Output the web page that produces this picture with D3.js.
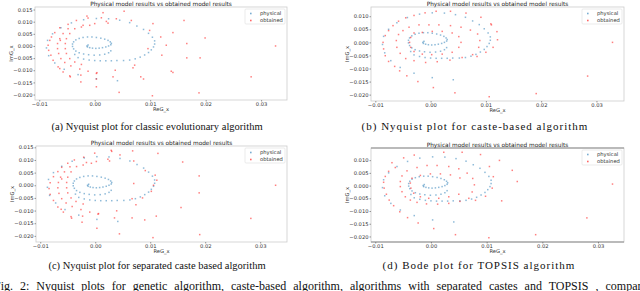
<!DOCTYPE html>
<html>
<head>
<meta charset="utf-8">
<script src="https://cdn.jsdelivr.net/npm/d3@7"></script>
<style>
body { margin: 0; background: #fff; }
svg { display: block; }
</style>
</head>
<body>
<svg></svg>
<script>
// physical model response, same in every panel (ReG_x, ImG_x)
let physical = [
    [-0.0012, 0.0004], [-0.0014, 0.0000], [-0.0013, -0.0004], [-0.0009, -0.0007], [-0.0004, -0.0009],
    [0.0002, -0.0010], [0.0008, -0.0009], [0.0014, -0.0007], [0.0020, -0.0004], [0.0025, 0.0000],
    [0.0029, 0.0005], [0.0030, 0.0011], [0.0028, 0.0017], [0.0024, 0.0023], [0.0018, 0.0028],
    [0.0011, 0.0032], [0.0003, 0.0035], [-0.0005, 0.0037], [-0.0013, 0.0037], [-0.0021, 0.0035],
    [-0.0028, 0.0031], [-0.0034, 0.0025], [-0.0038, 0.0017], [-0.0040, 0.0008], [-0.0040, -0.0002],
    [-0.0038, -0.0012], [-0.0034, -0.0021], [-0.0028, -0.0028], [-0.0020, -0.0033], [-0.0011, -0.0036],
    [-0.0001, -0.0038], [0.0009, -0.0037], [0.0018, -0.0034], [0.0025, -0.0028], [0.0029, -0.0020],
    [-0.0036, -0.0035], [-0.0030, -0.0048], [-0.0020, -0.0054], [-0.0010, -0.0058], [0.0000, -0.0060],
    [0.0010, -0.0061], [0.0020, -0.0061], [0.0030, -0.0061], [0.0040, -0.0060], [0.0052, -0.0060],
    [0.0063, -0.0058], [0.0073, -0.0053], [0.0082, -0.0046], [0.0090, -0.0037], [0.0097, -0.0027],
    [0.0102, -0.0016], [0.0106, -0.0004], [0.0108, 0.0008], [0.0108, 0.0021], [0.0104, 0.0036],
    [0.0097, 0.0052], [0.0088, 0.0068], [0.0076, 0.0082], [0.0063, 0.0096], [0.0045, 0.0106],
    [0.0025, 0.0112], [0.0003, 0.0113], [-0.0020, 0.0108], [-0.0042, 0.0095], [-0.0061, 0.0075],
    [-0.0076, 0.0050], [-0.0085, 0.0023], [-0.0087, -0.0008], [-0.0083, -0.0040], [-0.0072, -0.0070],
    [-0.0055, -0.0096], [-0.0030, -0.0118], [0.0003, -0.0135], [0.0041, -0.0143]
];

// obtained model results, panel (a)
let obtainedA = [
    [0.0053, 0.0143], [0.0015, 0.0137], [-0.0014, 0.0123], [-0.0033, 0.0105], [-0.0048, 0.0089],
    [-0.0063, 0.0075], [-0.0072, 0.0055], [-0.0078, 0.0037], [-0.0081, 0.0023], [-0.0084, 0.0003],
    [-0.0083, -0.0018], [-0.0079, -0.0038], [-0.0075, -0.0059], [-0.0066, -0.0086], [-0.0057, -0.0107],
    [-0.0045, -0.0123], [-0.0025, -0.0148], [0.0003, -0.0168], [0.0044, -0.0191], [0.0104, -0.0205],
    [-0.0012, 0.0115], [-0.0021, 0.0085], [-0.0048, 0.0071], [-0.0057, 0.0051], [-0.0063, 0.0030],
    [-0.0067, 0.0010], [-0.0067, -0.0011], [-0.0065, -0.0031], [-0.0061, -0.0052], [-0.0054, -0.0068],
    [-0.0043, -0.0082], [-0.0027, -0.0095], [-0.0012, -0.0104], [0.0003, -0.0113], [0.0033, -0.0127],
    [-0.0063, -0.0093], [-0.0044, -0.0127], [-0.0025, -0.0120], [0.0004, -0.0110], [0.0037, -0.0100],
    [-0.0045, 0.0051], [-0.0051, 0.0030], [-0.0053, 0.0010], [-0.0053, -0.0011], [-0.0051, -0.0031],
    [-0.0045, -0.0052], [-0.0036, -0.0066], [-0.0024, -0.0076], [-0.0036, 0.0071], [-0.0024, 0.0078],
    [-0.0009, 0.0085], [0.0000, 0.0092], [0.0021, 0.0101], [0.0039, 0.0112], [0.0066, 0.0105],
    [0.0024, 0.0094], [0.0012, 0.0116], [-0.0062, 0.0023], [0.0072, -0.0079], [0.0096, -0.0011],
    [0.0105, 0.0092], [0.0099, 0.0064], [0.0161, 0.0105], [0.0141, 0.0055], [0.0119, 0.0037],
    [0.0199, 0.0033], [0.0166, 0.0010], [0.0129, 0.0003], [0.0326, 0.0000], [0.0121, -0.0038],
    [0.0166, -0.0049], [0.0190, -0.0049], [0.0138, -0.0104], [0.0141, -0.0109], [0.0282, -0.0127],
    [0.0188, -0.0193], [0.0088, -0.0136], [0.0069, -0.0090], [0.0083, -0.0127], [0.0003, -0.0136]
];

// obtained model results, panel (b)
let obtainedB = [
    [-0.0030, 0.0103], [-0.0045, 0.0094], [-0.0058, 0.0081], [-0.0068, 0.0064], [-0.0076, 0.0045],
    [-0.0082, 0.0026], [-0.0086, 0.0000], [-0.0085, -0.0025], [-0.0082, -0.0051], [-0.0076, -0.0073],
    [-0.0065, -0.0092], [-0.0056, -0.0109], [-0.0043, -0.0128], [-0.0023, -0.0150], [0.0005, -0.0173],
    [0.0044, -0.0193], [0.0106, -0.0208], [0.0191, -0.0196], [0.0284, -0.0129], [0.0329, 0.0000],
    [-0.0010, 0.0113], [0.0010, 0.0119], [0.0036, 0.0119], [0.0064, 0.0112], [0.0091, 0.0096],
    [0.0109, 0.0071], [0.0120, 0.0041], [0.0121, 0.0010], [0.0113, -0.0019], [0.0100, -0.0038],
    [0.0084, -0.0054], [0.0110, 0.0067],
    [-0.0039, 0.0058], [-0.0050, 0.0045], [-0.0058, 0.0030], [-0.0062, 0.0007], [-0.0061, -0.0019],
    [-0.0055, -0.0042], [-0.0045, -0.0062], [-0.0030, -0.0070], [-0.0009, -0.0077], [0.0012, -0.0074],
    [0.0035, -0.0068], [0.0057, -0.0058], [0.0076, -0.0047], [-0.0021, 0.0067], [-0.0003, 0.0067],
    [0.0015, 0.0067], [0.0036, 0.0064], [0.0055, 0.0058], [0.0072, 0.0047], [0.0085, 0.0032],
    [0.0089, 0.0007], [0.0087, -0.0019],
    [-0.0030, 0.0036], [-0.0036, 0.0019], [-0.0038, 0.0000], [-0.0036, -0.0019], [-0.0030, -0.0035],
    [-0.0015, -0.0045], [0.0002, -0.0047], [0.0021, -0.0045], [0.0039, -0.0038], [0.0051, -0.0019],
    [0.0055, 0.0000], [0.0051, 0.0022], [0.0039, 0.0036], [0.0021, 0.0042], [0.0003, 0.0042],
    [-0.0015, 0.0038]
];

// obtained model results, panel (c)
let obtainedC = [
    [0.0068, 0.0136], [0.0029, 0.0138], [-0.0001, 0.0127], [-0.0021, 0.0111], [-0.0038, 0.0100],
    [-0.0050, 0.0087], [-0.0061, 0.0071], [-0.0068, 0.0054], [-0.0076, 0.0034], [-0.0082, 0.0010],
    [-0.0084, -0.0013], [-0.0082, -0.0036], [-0.0076, -0.0060], [-0.0068, -0.0086], [-0.0058, -0.0106],
    [-0.0044, -0.0124], [-0.0024, -0.0146], [0.0003, -0.0170], [0.0044, -0.0192], [0.0105, -0.0207],
    [-0.0016, 0.0090], [-0.0046, 0.0073], [-0.0056, 0.0053], [-0.0063, 0.0032], [-0.0067, 0.0011],
    [-0.0068, -0.0010], [-0.0066, -0.0032], [-0.0061, -0.0053], [-0.0053, -0.0070], [-0.0042, -0.0084],
    [-0.0026, -0.0096], [-0.0010, -0.0106], [0.0005, -0.0114], [0.0035, -0.0129], [-0.0062, -0.0095],
    [-0.0043, -0.0130], [-0.0023, -0.0122], [0.0006, -0.0112], [0.0039, -0.0101], [0.0067, -0.0129],
    [-0.0044, 0.0053], [-0.0050, 0.0032], [-0.0052, 0.0011], [-0.0052, -0.0010], [-0.0050, -0.0030],
    [-0.0044, -0.0050], [-0.0035, -0.0064], [-0.0022, -0.0074], [-0.0034, 0.0074], [-0.0022, 0.0080],
    [-0.0007, 0.0087], [0.0002, 0.0094], [0.0023, 0.0103], [0.0045, 0.0120], [0.0070, 0.0096],
    [0.0026, 0.0096], [0.0030, 0.0134], [-0.0061, 0.0025], [0.0074, -0.0077], [0.0067, -0.0053],
    [0.0114, 0.0126], [0.0091, 0.0058], [0.0159, 0.0092], [0.0109, 0.0040], [0.0112, 0.0020],
    [0.0189, 0.0037], [0.0106, 0.0000], [0.0070, 0.0007], [0.0328, 0.0000], [0.0102, -0.0024],
    [0.0189, -0.0030], [0.0156, -0.0088], [0.0111, -0.0122], [0.0283, -0.0131], [0.0190, -0.0195],
    [0.0086, -0.0050], [0.0090, -0.0137]
];

// obtained model results, panel (d)
let obtainedD = [
    [-0.0049, 0.0109], [-0.0064, 0.0071], [-0.0076, 0.0056], [-0.0082, 0.0036], [-0.0085, 0.0013],
    [-0.0084, -0.0010], [-0.0080, -0.0034], [-0.0075, -0.0057], [-0.0067, -0.0079], [-0.0056, -0.0103],
    [-0.0042, -0.0126], [-0.0023, -0.0147], [0.0005, -0.0169], [0.0044, -0.0193], [0.0104, -0.0205],
    [0.0188, -0.0193], [0.0280, -0.0127], [0.0326, 0.0006], [-0.0070, 0.0090], [-0.0030, 0.0120],
    [0.0023, 0.0131], [0.0056, 0.0131], [0.0089, 0.0122], [0.0123, 0.0099], [0.0146, 0.0060],
    [0.0155, 0.0016], [0.0127, -0.0060], [0.0105, 0.0075], [0.0112, 0.0035], [0.0110, -0.0010],
    [0.0098, -0.0042], [0.0080, -0.0058],
    [-0.0043, 0.0058], [-0.0052, 0.0038], [-0.0055, 0.0016], [-0.0055, -0.0004], [-0.0052, -0.0024],
    [-0.0046, -0.0044], [-0.0037, -0.0057], [-0.0025, -0.0066], [-0.0008, -0.0072], [0.0012, -0.0073],
    [0.0032, -0.0070], [0.0052, -0.0062], [0.0068, -0.0050], [-0.0025, 0.0071], [-0.0007, 0.0079],
    [0.0011, 0.0079], [0.0032, 0.0075], [0.0050, 0.0066], [0.0065, 0.0049], [0.0075, 0.0028],
    [0.0078, 0.0003], [0.0074, -0.0025],
    [-0.0034, 0.0029], [-0.0037, 0.0010], [-0.0036, -0.0010], [-0.0031, -0.0030], [-0.0019, -0.0044],
    [-0.0004, -0.0050], [0.0014, -0.0050], [0.0032, -0.0044], [0.0050, -0.0034], [-0.0019, 0.0040],
    [-0.0001, 0.0046], [0.0017, 0.0046], [0.0035, 0.0042], [0.0052, 0.0030]
];

let xTicks = [-0.01, 0.00, 0.01, 0.02, 0.03];
let yTicksWide = [-0.020, -0.015, -0.010, -0.005, 0.000, 0.005, 0.010, 0.015];
let yTicksNarrow = [-0.020, -0.015, -0.010, -0.005, 0.000, 0.005, 0.010];
let seriesNames = ['physical', 'obtained'];
let titleText = 'Physical model results vs obtained model results';
let captions = [
    '(a) Nyquist plot for classic evolutionary algorithm',
    '(b) Nyquist plot for caste-based algorithm',
    '(c) Nyquist plot for separated caste based algorithm',
    '(d) Bode plot for TOPSIS algorithm'
];
let figCaption = 'Fig. 2: Nyquist plots for genetic algorithm, caste-based algorithm, algorithms with separated castes and TOPSIS , comparison';

let width = 640;
let height = 291;
let blue = '#1f77b4';
let red = '#ff0000';

let panels = [
    { obtained: obtainedA, yTicks: yTicksWide, x: 35, y: 7, w: 252, h: 93, capX: 157, capY: 129.5, capSize: 10.5, capSpacing: 0, dark: false },
    { obtained: obtainedB, yTicks: yTicksNarrow, x: 371, y: 7, w: 253, h: 94, capX: 475, capY: 129.5, capSize: 11, capSpacing: 1, dark: false },
    { obtained: obtainedC, yTicks: yTicksWide, x: 36, y: 146, w: 251, h: 96, capX: 157, capY: 269, capSize: 10.5, capSpacing: 0, dark: false },
    { obtained: obtainedD, yTicks: yTicksNarrow, x: 371, y: 148, w: 253, h: 94, capX: 479, capY: 269, capSize: 11, capSpacing: 1, dark: true }
];

let svg = d3.select('svg').attr('width', width).attr('height', height);

let padded = (ext) => {
    let pad = (ext[1] - ext[0]) * 0.05;
    return [ext[0] - pad, ext[1] + pad];
};

let drawPanel = (p, i) => {
    let all = physical.concat(p.obtained);
    let xScale = d3.scaleLinear()
        .domain(padded(d3.extent(all, (d) => d[0])))
        .range([p.x, p.x + p.w]);
    let yScale = d3.scaleLinear()
        .domain(padded(d3.extent(all, (d) => d[1])))
        .range([p.y + p.h, p.y]);

    let g = svg.append('g');

    // frame
    g.append('rect')
        .attr('x', p.x).attr('y', p.y)
        .attr('width', p.w).attr('height', p.h)
        .attr('fill', 'none')
        .attr('stroke', '#cccccc')
        .attr('stroke-width', 0.8);
    if (p.dark) {
        [p.y, p.y + p.h].forEach((yy) => {
            g.append('line')
                .attr('x1', p.x).attr('x2', p.x + p.w)
                .attr('y1', yy).attr('y2', yy)
                .attr('stroke', '#8a8a8a')
                .attr('stroke-width', 1.2);
        });
    }

    let xAxis = d3.axisBottom(xScale).tickValues(xTicks).tickSize(1.5).tickPadding(0.8)
        .tickFormat(d3.format('.2f'));
    let yAxis = d3.axisLeft(yScale).tickValues(p.yTicks).tickSize(1.5).tickPadding(1)
        .tickFormat(d3.format('.3f'));

    let gx = g.append('g')
        .attr('transform', `translate(0, ${p.y + p.h})`)
        .call(xAxis);
    let gy = g.append('g')
        .attr('transform', `translate(${p.x}, 0)`)
        .call(yAxis);
    [gx, gy].forEach((ax) => {
        ax.select('.domain').remove();
        ax.selectAll('line').attr('stroke', '#555').attr('stroke-width', 0.6);
        ax.selectAll('text')
            .attr('font-family', 'DejaVu Sans')
            .attr('font-size', 5.2)
            .attr('fill', '#333');
    });

    // points
    g.append('g').selectAll('rect')
        .data(physical)
        .enter()
        .append('rect')
        .attr('x', (d) => xScale(d[0]) - 0.75)
        .attr('y', (d) => yScale(d[1]) - 0.75)
        .attr('width', 1.5).attr('height', 1.5)
        .attr('fill', blue)
        .attr('opacity', 0.5);
    g.append('g').selectAll('rect')
        .data(p.obtained)
        .enter()
        .append('rect')
        .attr('x', (d) => xScale(d[0]) - 0.75)
        .attr('y', (d) => yScale(d[1]) - 0.75)
        .attr('width', 1.5).attr('height', 1.5)
        .attr('fill', red)
        .attr('opacity', 0.5);

    // title and axis labels
    g.append('text')
        .attr('x', p.x + p.w / 2).attr('y', p.y - 1.3)
        .attr('text-anchor', 'middle')
        .attr('font-family', 'DejaVu Sans').attr('font-size', 5.8)
        .attr('fill', '#222')
        .text(titleText);
    g.append('text')
        .attr('x', p.x + p.w / 2).attr('y', p.y + p.h + 11)
        .attr('text-anchor', 'middle')
        .attr('font-family', 'DejaVu Sans').attr('font-size', 5.2)
        .attr('fill', '#333')
        .text('ReG_x');
    g.append('text')
        .attr('transform', `translate(${p.x - 22}, ${p.y + p.h / 2}) rotate(-90)`)
        .attr('text-anchor', 'middle')
        .attr('font-family', 'DejaVu Sans').attr('font-size', 5.2)
        .attr('fill', '#333')
        .text('ImG_x');

    // legend
    let lx = p.x + p.w - 42;
    let ly = p.y + 2;
    g.append('rect')
        .attr('x', lx).attr('y', ly)
        .attr('width', 40).attr('height', 15)
        .attr('rx', 1)
        .attr('fill', '#fff')
        .attr('stroke', '#dddddd')
        .attr('stroke-width', 0.6);
    seriesNames.forEach((name, k) => {
        let yy = ly + 4.5 + k * 7;
        g.append('rect')
            .attr('x', lx + 5).attr('y', yy - 0.8)
            .attr('width', 1.6).attr('height', 1.6)
            .attr('fill', k === 0 ? blue : red)
            .attr('opacity', 0.6);
        g.append('text')
            .attr('x', lx + 15).attr('y', yy + 1.8)
            .attr('font-family', 'DejaVu Sans').attr('font-size', 5.2)
            .attr('fill', '#333')
            .text(name);
    });

    // caption
    svg.append('text')
        .attr('x', p.capX).attr('y', p.capY)
        .attr('text-anchor', 'middle')
        .attr('font-family', 'Liberation Serif').attr('font-size', p.capSize)
        .attr('letter-spacing', p.capSpacing)
        .attr('fill', '#111')
        .text(captions[i]);
};

panels.forEach(drawPanel);

svg.append('text')
    .attr('x', -6).attr('y', 289.5)
    .attr('font-family', 'Liberation Serif').attr('font-size', 12)
    .attr('word-spacing', 4)
    .attr('fill', '#111')
    .text(figCaption);
</script>
</body>
</html>
